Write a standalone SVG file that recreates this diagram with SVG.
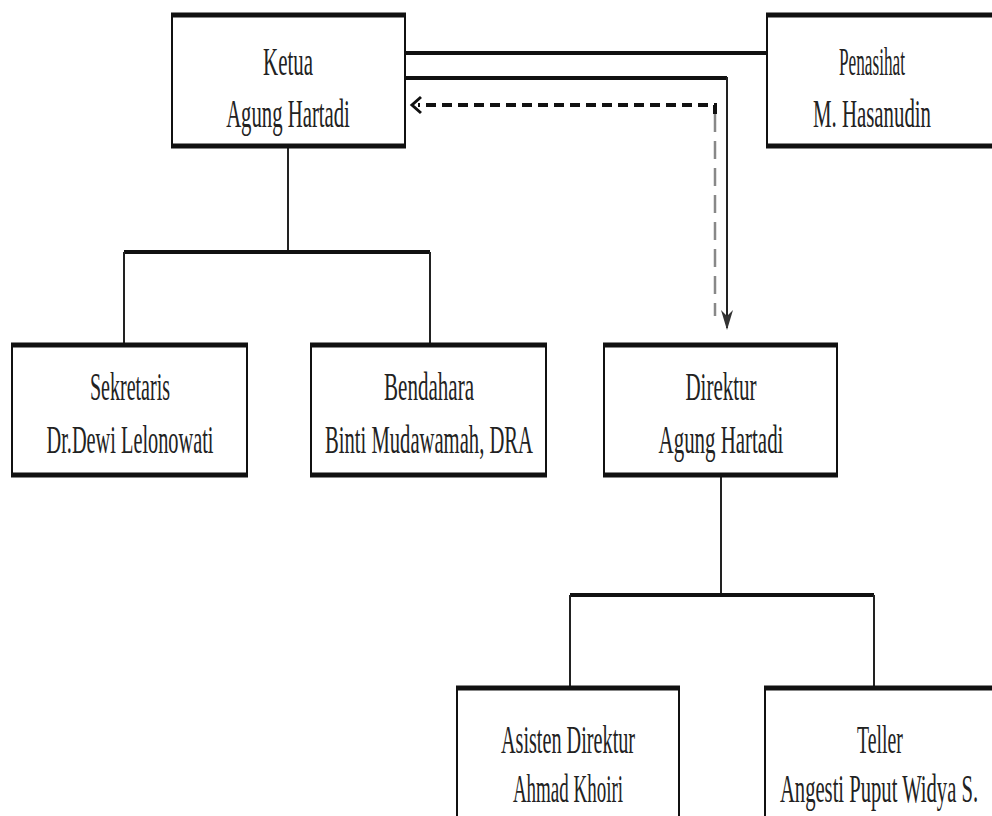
<svg xmlns="http://www.w3.org/2000/svg" width="992" height="816" viewBox="0 0 992 816">
<style>
.box{fill:#fff;stroke:#111;stroke-width:2}
.edge{stroke:#111;stroke-width:5}
.t{font-family:"Liberation Serif","Times New Roman",serif;font-size:40px;fill:#222;text-anchor:middle}
.bar{stroke:#111;stroke-width:4;fill:none}
.stem{stroke:#222;stroke-width:2;fill:none}
</style>
<rect width="992" height="816" fill="#fff"/>
<g id="connectors">
<line class="bar" x1="405" y1="53" x2="767" y2="53"/>
<polyline class="bar" points="405,78 727,78"/>
<line class="stem" x1="727" y1="77" x2="727" y2="328"/>
<path d="M721,310 L727,330 L733,310 L727,316 Z" fill="#333"/>
<line x1="715" y1="114" x2="715" y2="316" stroke="#888" stroke-width="2.5" stroke-dasharray="18,9"/>
<polyline points="715,114 715,105 418,105" fill="none" stroke="#111" stroke-width="4" stroke-dasharray="10,6"/>
<polyline points="421,97 412,105 421,113" fill="none" stroke="#111" stroke-width="3"/>
<line class="stem" x1="288" y1="147" x2="288" y2="252"/>
<line class="bar" x1="124" y1="252" x2="430" y2="252"/>
<line class="stem" x1="124" y1="252" x2="124" y2="343"/>
<line class="stem" x1="430" y1="252" x2="430" y2="343"/>
<line class="stem" x1="721" y1="476" x2="721" y2="595"/>
<line class="bar" x1="570" y1="595" x2="874" y2="595"/>
<line class="stem" x1="570" y1="595" x2="570" y2="686"/>
<line class="stem" x1="874" y1="595" x2="874" y2="686"/>
</g>
<g id="ketua">
<rect class="box" x="172" y="14" width="233" height="133"/>
<line class="edge" x1="171" y1="15" x2="406" y2="15"/><line class="edge" x1="171" y1="146" x2="406" y2="146"/>
<text class="t" transform="translate(288,75) scale(0.52,1)" textLength="96" lengthAdjust="spacingAndGlyphs">Ketua</text>
<text class="t" transform="translate(288,127) scale(0.52,1)" textLength="238" lengthAdjust="spacingAndGlyphs">Agung Hartadi</text>
</g>
<g id="penasihat">
<rect class="box" x="767" y="14" width="230" height="133"/>
<line class="edge" x1="766" y1="15" x2="992" y2="15"/><line class="edge" x1="766" y1="146" x2="992" y2="146"/>
<text class="t" transform="translate(872,75) scale(0.52,1)" textLength="127" lengthAdjust="spacingAndGlyphs">Penasihat</text>
<text class="t" transform="translate(872,127) scale(0.52,1)" textLength="227" lengthAdjust="spacingAndGlyphs">M. Hasanudin</text>
</g>
<g id="sekretaris">
<rect class="box" x="12" y="344" width="235" height="132"/>
<line class="edge" x1="11" y1="345" x2="248" y2="345"/><line class="edge" x1="11" y1="475" x2="248" y2="475"/>
<text class="t" transform="translate(130,400) scale(0.52,1)" textLength="154" lengthAdjust="spacingAndGlyphs">Sekretaris</text>
<text class="t" transform="translate(130,453) scale(0.52,1)" textLength="321" lengthAdjust="spacingAndGlyphs">Dr.Dewi Lelonowati</text>
</g>
<g id="bendahara">
<rect class="box" x="311" y="344" width="235" height="132"/>
<line class="edge" x1="310" y1="345" x2="547" y2="345"/><line class="edge" x1="310" y1="475" x2="547" y2="475"/>
<text class="t" transform="translate(429,400) scale(0.52,1)" textLength="173" lengthAdjust="spacingAndGlyphs">Bendahara</text>
<text class="t" transform="translate(429,453) scale(0.52,1)" textLength="400" lengthAdjust="spacingAndGlyphs">Binti Mudawamah, DRA</text>
</g>
<g id="direktur">
<rect class="box" x="604" y="344" width="233" height="132"/>
<line class="edge" x1="603" y1="345" x2="838" y2="345"/><line class="edge" x1="603" y1="475" x2="838" y2="475"/>
<text class="t" transform="translate(721,400) scale(0.52,1)" textLength="137" lengthAdjust="spacingAndGlyphs">Direktur</text>
<text class="t" transform="translate(721,453) scale(0.52,1)" textLength="240" lengthAdjust="spacingAndGlyphs">Agung Hartadi</text>
</g>
<g id="asisten">
<rect class="box" x="457" y="687" width="222" height="140"/>
<line class="edge" x1="456" y1="688" x2="680" y2="688"/>
<text class="t" transform="translate(568,753) scale(0.52,1)" textLength="258" lengthAdjust="spacingAndGlyphs">Asisten Direktur</text>
<text class="t" transform="translate(568,802) scale(0.52,1)" textLength="212" lengthAdjust="spacingAndGlyphs">Ahmad Khoiri</text>
</g>
<g id="teller">
<rect class="box" x="765" y="687" width="232" height="140"/>
<line class="edge" x1="764" y1="688" x2="992" y2="688"/>
<text class="t" transform="translate(880,753) scale(0.52,1)" textLength="88" lengthAdjust="spacingAndGlyphs">Teller</text>
<text class="t" transform="translate(879,802) scale(0.52,1)" textLength="381" lengthAdjust="spacingAndGlyphs">Angesti Puput Widya S.</text>
</g>
</svg>
